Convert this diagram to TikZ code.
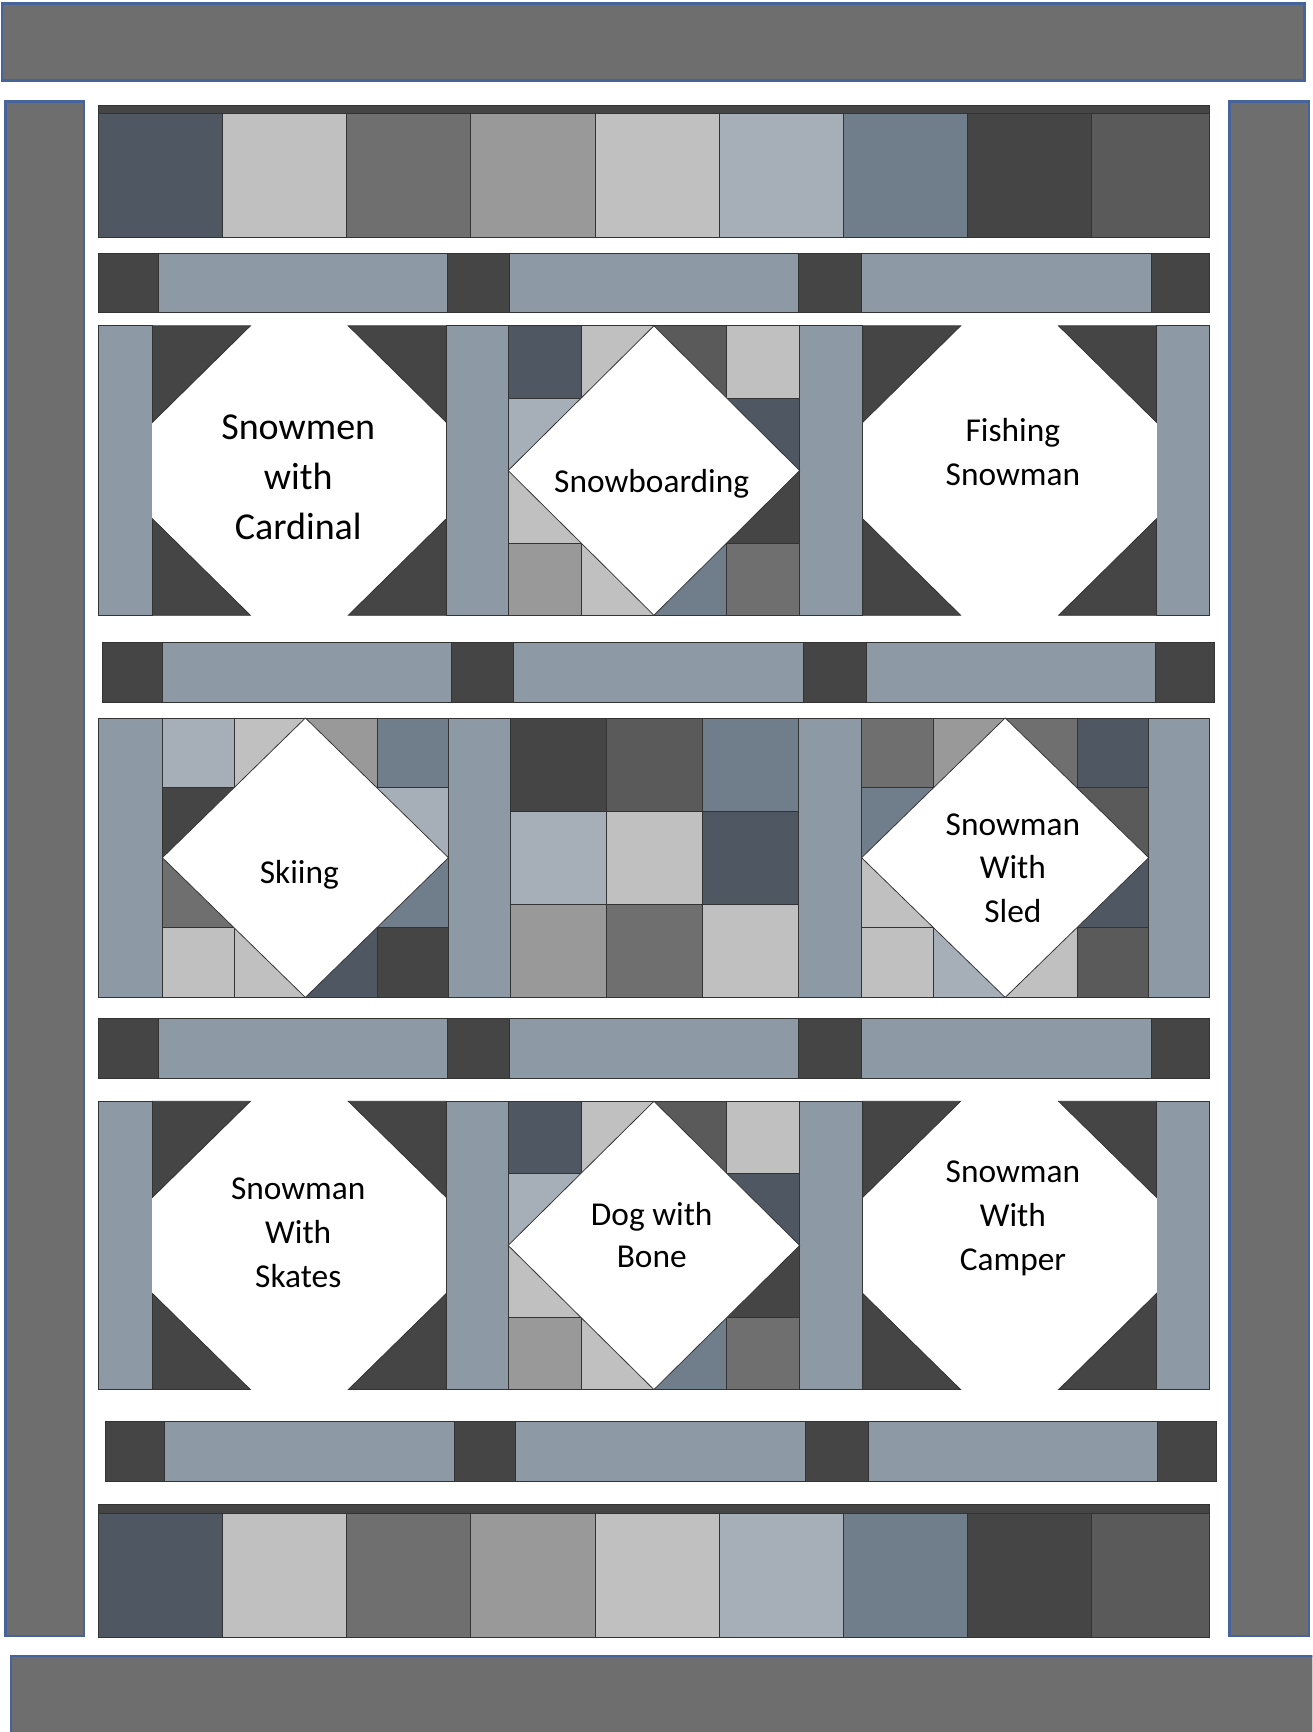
\documentclass[tikz,border=0pt]{standalone}
\usepackage{fontspec}
\setmainfont{Carlito}
\usepackage{xcolor}
\usepackage{tikz}

\definecolor{bordergray}{RGB}{110,110,110}
\definecolor{borderblue}{RGB}{70,100,155}
\definecolor{sash}{RGB}{141,153,165}
\definecolor{qdark}{RGB}{69,69,69}
\definecolor{charcoal}{RGB}{90,90,90}
\definecolor{slate}{RGB}{79,88,98}
\definecolor{steel}{RGB}{112,126,140}
\definecolor{lslate}{RGB}{166,175,184}
\definecolor{mgray}{RGB}{111,111,111}
\definecolor{qgray}{RGB}{153,153,153}
\definecolor{lgray}{RGB}{192,192,192}

% snowball block: x, y, width, height
\newcommand{\snowball}[4]{
    \fill[white] (#1,#2) rectangle ++(#3,#4);
    \filldraw[piece, fill=qdark] (#1,#2) -- ({#1+#3/3},#2) -- (#1,{#2+#4/3}) -- cycle;
    \filldraw[piece, fill=qdark] ({#1+#3},#2) -- ({#1+2*#3/3},#2) -- ({#1+#3},{#2+#4/3}) -- cycle;
    \filldraw[piece, fill=qdark] (#1,{#2+#4}) -- ({#1+#3/3},{#2+#4}) -- (#1,{#2+2*#4/3}) -- cycle;
    \filldraw[piece, fill=qdark] ({#1+#3},{#2+#4}) -- ({#1+2*#3/3},{#2+#4}) -- ({#1+#3},{#2+2*#4/3}) -- cycle;
}
% square in a square: x, y, width, height, cells col/row/colour
\newcommand{\diamondblock}[5]{
    \foreach \i/\j/\col in {#5}
        \filldraw[piece, fill=\col] ({#1+\i*#3/4},{#2+\j*#4/4}) rectangle ++({#3/4},{#4/4});
    \filldraw[piece, fill=white] ({#1+#3/2},#2) -- ({#1+#3},{#2+#4/2}) -- ({#1+#3/2},{#2+#4}) -- (#1,{#2+#4/2}) -- cycle;
}
% sashing row: x shift, top y
\newcommand{\sashrow}[2]{
    \filldraw[piece, fill=sash] ({89+#1},#2) rectangle ({1095+#1},{#2+54});
    \foreach \xa/\xb in {89/143,405/461,723/780,1042/1095}
        \filldraw[piece, fill=qdark] ({\xa+#1},#2) rectangle ({\xb+#1},{#2+54});
}
% row of squares: top y
\newcommand{\squarerow}[1]{
    \filldraw[piece, fill=qdark] (89,#1) rectangle (1095,{#1+8});
    \foreach \col [count=\n from 0] in {slate,lgray,mgray,qgray,lgray,lslate,steel,qdark,charcoal}{
        \pgfmathsetmacro{\xr}{min(89+112.4*(\n+1),1095)}
        \filldraw[piece, fill=\col] ({89+112.4*\n},{#1+8}) rectangle (\xr,{#1+120});
    }
}

\begin{document}
\begin{tikzpicture}[
    x=0.02cm, y=-0.02cm,
    piece/.style={draw=black!80, line width=0.4pt},
    border/.style={fill=bordergray, draw=borderblue, line width=1.3pt},
    label/.style={align=center, font=\fontsize{17.2}{22.5}\selectfont}
]
\useasboundingbox (0,0) rectangle (1188,1568);
\clip (0,0) rectangle (1188,1568);

% Outer borders
\draw[border] (2,3) rectangle (1181,73);
\draw[border] (5,92) rectangle (76,1481);
\draw[border] (1113,92) rectangle (1185,1481);
\draw[border] (10,1499) rectangle (1195,1580);

% Squares top and bottom
\squarerow{95}
\squarerow{1362}

% Sashing rows
\sashrow{0}{229}
\sashrow{4}{582}
\sashrow{0}{922}
\sashrow{6}{1287}

% Block row 1
\foreach \xa/\xb in {89/138,404/460,724/781,1047/1095}
    \filldraw[piece, fill=sash] (\xa,295) rectangle (\xb,557);
\snowball{138}{295}{266}{262}
\diamondblock{460}{295}{264}{262}{0/0/slate,1/0/lgray,2/0/charcoal,3/0/lgray,0/1/lslate,3/1/slate,0/2/lgray,3/2/qdark,0/3/qgray,1/3/lgray,2/3/steel,3/3/mgray}
\snowball{781}{295}{266}{262}

% Block row 2
\foreach \xa/\xb in {89/147,406/462,723/780,1040/1095}
    \filldraw[piece, fill=sash] (\xa,650) rectangle (\xb,903);
\diamondblock{147}{650}{259}{253}{0/0/lslate,1/0/lgray,2/0/qgray,3/0/steel,0/1/qdark,3/1/lslate,0/2/mgray,3/2/steel,0/3/lgray,1/3/lgray,2/3/slate,3/3/qdark}
\foreach \i/\j/\col in {0/0/qdark,1/0/charcoal,2/0/steel,0/1/lslate,1/1/lgray,2/1/slate,0/2/qgray,1/2/mgray,2/2/lgray}
    \filldraw[piece, fill=\col] ({462+\i*87},{650+\j*84.33}) rectangle ++(87,84.33);
\diamondblock{780}{650}{260}{253}{0/0/mgray,1/0/qgray,2/0/mgray,3/0/slate,0/1/steel,3/1/charcoal,0/2/lgray,3/2/slate,0/3/lgray,1/3/lslate,2/3/lgray,3/3/charcoal}

% Block row 3
\foreach \xa/\xb in {89/138,404/460,724/781,1047/1095}
    \filldraw[piece, fill=sash] (\xa,997) rectangle (\xb,1258);
\snowball{138}{997}{266}{261}
\diamondblock{460}{997}{264}{261}{0/0/slate,1/0/lgray,2/0/charcoal,3/0/lgray,0/1/lslate,3/1/slate,0/2/lgray,3/2/qdark,0/3/qgray,1/3/lgray,2/3/steel,3/3/mgray}
\snowball{781}{997}{266}{261}

% Block names
\node[label, font=\fontsize{19.6}{25.6}\selectfont] (cardinal) at (270,432) {Snowmen\\with\\Cardinal};
\node[label] (snowboard) at (590,438) {Snowboarding};
\node[label] (fishing) at (917,409) {Fishing\\Snowman};
\node[label] (skiing) at (271,792) {Skiing};
\node[label] (sled) at (917,786) {Snowman\\With\\Sled};
\node[label] (skates) at (270,1116) {Snowman\\With\\Skates};
\node[label, font=\fontsize{17.2}{21.5}\selectfont] (dogbone) at (590,1118) {Dog with\\Bone};
\node[label] (camper) at (917,1103) {Snowman\\With\\Camper};

\end{tikzpicture}
\end{document}
